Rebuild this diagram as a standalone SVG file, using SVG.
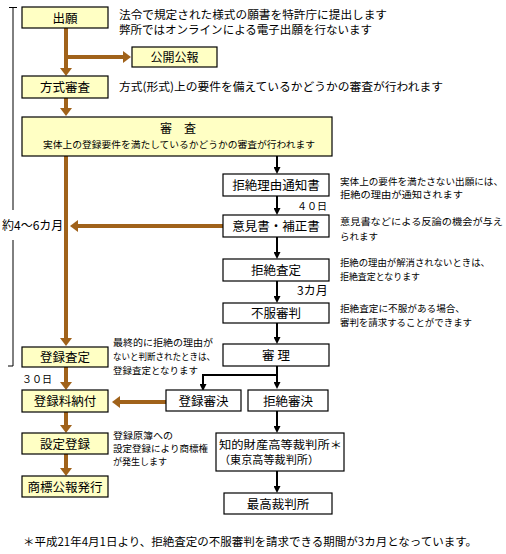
<svg xmlns="http://www.w3.org/2000/svg" width="506" height="554" viewBox="0 0 506 554">
<style>
text{font-family:"Noto Sans CJK JP","Noto Sans CJK SC",sans-serif;fill:#000}
.y{fill:#FFFFC4;stroke:#000;stroke-width:1.2}
.w{fill:#fff;stroke:#000;stroke-width:1.2}
.lb{font-size:12.5px;text-anchor:middle}
.sm{font-size:12px;text-anchor:middle}
.n{font-size:9.5px}
.m{font-size:11.5px}
.br{stroke:#A0621A;stroke-width:4;fill:none}
.bk{stroke:#000;stroke-width:2;fill:none}
.th{stroke:#000;stroke-width:1;fill:none}
</style>
<defs>
<marker id="ab" viewBox="0 -6 8 12" markerWidth="8" markerHeight="12" refX="0" refY="0" orient="auto" markerUnits="userSpaceOnUse"><path d="M0,-6 L8,0 L0,6 z" fill="#A0621A"/></marker>
<marker id="ak" viewBox="0 -3.5 7 7" markerWidth="7" markerHeight="7" refX="0" refY="0" orient="auto" markerUnits="userSpaceOnUse"><path d="M0,-3.5 L7,0 L0,3.5 z" fill="#000"/></marker>
</defs>
<rect width="506" height="554" fill="#fff"/>
<g id="bracket">
<path class="th" d="M9,7.5 H17 M13,7.5 V210 M13,240 V366 H8"/>
<text x="2" y="230" font-size="12px">約4～6カ月</text>
</g>
<g id="connectors">
<path class="br" d="M66,28 V68" marker-end="url(#ab)"/>
<path class="br" d="M66,57 H123" marker-end="url(#ab)"/>
<path class="br" d="M66,98 V108" marker-end="url(#ab)"/>
<path class="br" d="M66,156 V338" marker-end="url(#ab)"/>
<path class="br" d="M223,226 H78" marker-end="url(#ab)"/>
<path class="br" d="M66,367 V382" marker-end="url(#ab)"/>
<path class="br" d="M166,402 H120" marker-end="url(#ab)"/>
<path class="br" d="M66,412 V425" marker-end="url(#ab)"/>
<path class="br" d="M66,454 V468" marker-end="url(#ab)"/>
<path class="bk" d="M277,156 V167" marker-end="url(#ak)"/>
<path class="bk" d="M277,196 V208" marker-end="url(#ak)"/>
<path class="bk" d="M277,237 V252" marker-end="url(#ak)"/>
<path class="bk" d="M277,281 V296" marker-end="url(#ak)"/>
<path class="bk" d="M277,323 V337" marker-end="url(#ak)"/>
<path class="bk" d="M277,366 V382" marker-end="url(#ak)"/>
<path class="bk" d="M277,375 H203 V384" marker-end="url(#ak)"/>
<path class="bk" d="M277,411 V426" marker-end="url(#ak)"/>
<path class="bk" d="M277,471 V486" marker-end="url(#ak)"/>
</g>
<g id="n-shutsugan"><rect class="y" x="22" y="7" width="86" height="21"/><text class="lb" x="65" y="22.5">出願</text></g>
<g id="n-koukai"><rect class="y" x="132" y="47" width="85" height="20"/><text class="sm" x="174.5" y="62">公開公報</text></g>
<g id="n-houshiki"><rect class="y" x="22" y="76" width="86" height="22"/><text class="lb" x="65" y="92">方式審査</text></g>
<g id="n-shinsa"><rect class="y" x="22" y="117" width="310" height="39"/><text x="178" y="133" font-size="12px" text-anchor="middle">審　査</text><text x="43" y="148" font-size="9.5px" textLength="272" lengthAdjust="spacingAndGlyphs">実体上の登録要件を満たしているかどうかの審査が行われます</text></g>
<g id="n-kyozetsuriyu"><rect class="w" x="223" y="174" width="106" height="22"/><text class="lb" x="276" y="190">拒絶理由通知書</text></g>
<g id="n-ikensho"><rect class="w" x="223" y="215" width="106" height="22"/><text class="lb" x="276" y="231">意見書・補正書</text></g>
<g id="n-kyozetsusatei"><rect class="w" x="223" y="259" width="106" height="22"/><text class="lb" x="276" y="275">拒絶査定</text></g>
<g id="n-fufuku"><rect class="w" x="223" y="303" width="106" height="20"/><text class="lb" x="276" y="318">不服審判</text></g>
<g id="n-shinri"><rect class="w" x="223" y="344" width="106" height="22"/><text class="lb" x="276" y="360">審 理</text></g>
<g id="n-tourokushinketsu"><rect class="w" x="166" y="390" width="75" height="21"/><text class="lb" x="203.5" y="406">登録審決</text></g>
<g id="n-kyozetsushinketsu"><rect class="w" x="248" y="390" width="80" height="21"/><text class="lb" x="288" y="406">拒絶審決</text></g>
<g id="n-chizai"><rect class="w" x="216" y="433" width="128" height="38"/><text x="219" y="449" font-size="11px" textLength="123" lengthAdjust="spacingAndGlyphs">知的財産高等裁判所＊</text><text x="219" y="464" font-size="11px" textLength="100" lengthAdjust="spacingAndGlyphs">（東京高等裁判所）</text></g>
<g id="n-saikou"><rect class="w" x="224" y="493" width="108" height="21"/><text class="lb" x="278" y="509">最高裁判所</text></g>
<g id="n-tourokusatei"><rect class="y" x="22" y="347" width="86" height="20"/><text class="lb" x="65" y="362">登録査定</text></g>
<g id="n-ryoukin"><rect class="y" x="22" y="390" width="86" height="22"/><text class="lb" x="65" y="406">登録料納付</text></g>
<g id="n-settei"><rect class="y" x="22" y="433" width="86" height="21"/><text class="lb" x="65" y="449">設定登録</text></g>
<g id="n-koho"><rect class="y" x="22" y="476" width="86" height="21"/><text class="lb" x="65" y="492">商標公報発行</text></g>
<g id="notes">
<text class="m" x="119" y="19" textLength="268" lengthAdjust="spacingAndGlyphs">法令で規定された様式の願書を特許庁に提出します</text>
<text class="m" x="119" y="34" textLength="253" lengthAdjust="spacingAndGlyphs">弊所ではオンラインによる電子出願を行ないます</text>
<text class="m" x="119" y="91" textLength="324" lengthAdjust="spacingAndGlyphs">方式(形式)上の要件を備えているかどうかの審査が行われます</text>
<text class="n" x="340" y="185" textLength="163" lengthAdjust="spacingAndGlyphs">実体上の要件を満たさない出願には、</text>
<text class="n" x="340" y="198" textLength="123" lengthAdjust="spacingAndGlyphs">拒絶の理由が通知されます</text>
<text class="n" x="340" y="225" textLength="163" lengthAdjust="spacingAndGlyphs">意見書などによる反論の機会が与え</text>
<text class="n" x="340" y="240" textLength="38" lengthAdjust="spacingAndGlyphs">られます</text>
<text class="n" x="340" y="266" textLength="150" lengthAdjust="spacingAndGlyphs">拒絶の理由が解消されないときは、</text>
<text class="n" x="340" y="280" textLength="80" lengthAdjust="spacingAndGlyphs">拒絶査定となります</text>
<text class="n" x="340" y="312" textLength="125" lengthAdjust="spacingAndGlyphs">拒絶査定に不服がある場合、</text>
<text class="n" x="340" y="326" textLength="132" lengthAdjust="spacingAndGlyphs">審判を請求することができます</text>
<text class="n" x="113" y="346" textLength="100" lengthAdjust="spacingAndGlyphs">最終的に拒絶の理由が</text>
<text class="n" x="113" y="360" textLength="102" lengthAdjust="spacingAndGlyphs">ないと判断されたときは、</text>
<text class="n" x="113" y="374" textLength="85" lengthAdjust="spacingAndGlyphs">登録査定となります</text>
<text class="n" x="113" y="439" textLength="60" lengthAdjust="spacingAndGlyphs">登録原簿への</text>
<text class="n" x="113" y="452" textLength="95" lengthAdjust="spacingAndGlyphs">設定登録により商標権</text>
<text class="n" x="113" y="465" textLength="54" lengthAdjust="spacingAndGlyphs">が発生します</text>
<text x="297" y="210" font-size="10px">４０日</text>
<text x="297" y="295" font-size="12px">3カ月</text>
<text x="22" y="383" font-size="10px">３０日</text>
<text class="m" x="23" y="546" textLength="454" lengthAdjust="spacingAndGlyphs">＊平成21年4月1日より、拒絶査定の不服審判を請求できる期間が3カ月となっています。</text>
</g>
</svg>
